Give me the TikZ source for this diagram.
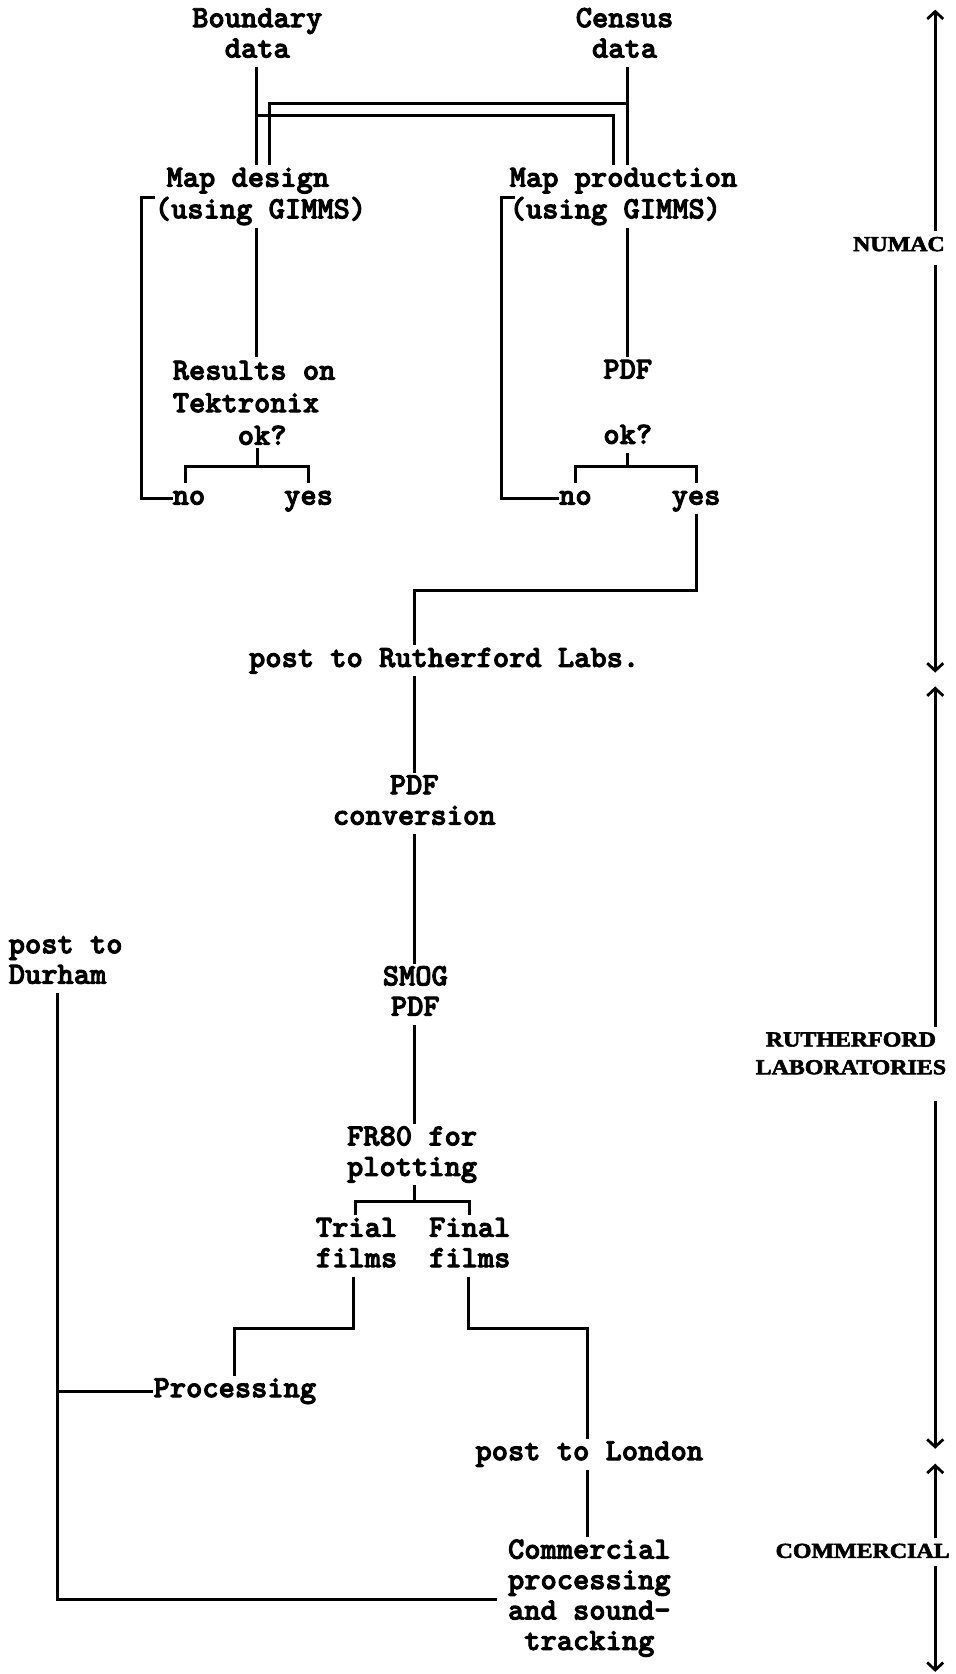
\documentclass[tikz,border=0pt]{standalone}
\usepackage{graphicx}
\usepackage{fontspec}
\usetikzlibrary{arrows.meta}
\newfontfamily\twfont{Latin Modern Mono Light}[BoldFeatures={FakeBold=3}]
\newfontfamily\labfont{Liberation Serif}[BoldFeatures={FakeBold=2.5}]
\newcommand\labtxt[1]{\scalebox{1.12}[1]{#1}\strut}
\begin{document}
\begin{tikzpicture}[x=1pt,y=-1pt,
  txt/.style={font=\twfont\bfseries\fontsize{29}{28.5}\selectfont, inner sep=0pt, align=center},
  txtwide/.style={font=\twfont\bfseries\fontsize{29}{30.5}\selectfont},
  lbl/.style={font=\labfont\bfseries\fontsize{20}{26}\selectfont, inner sep=0pt, align=center},
  wire/.style={line width=2.8pt},
  spanarrow/.style={line width=2.6pt, -{Straight Barb[length=7pt,width=15pt]}}]
\fill[white] (0,0) rectangle (895,1568);
\useasboundingbox (0,0) rectangle (895,1568);

% column coordinates
\coordinate (xL) at (240,0);
\coordinate (xLi) at (252,0);
\coordinate (xRo) at (575,0);
\coordinate (xR) at (588,0);
\coordinate (xC) at (388,0);
\coordinate (xD) at (54,0);
\coordinate (xS) at (876,0);
\coordinate (hA) at (0,97);
\coordinate (hB) at (0,108);

% nodes
\node[txt] (bd) at (241,34) {\strut Boundary\\\strut data};
\node[txt] (cd) at (585,34) {\strut Census\\\strut data};
\node[txt,align=left] (md) at (244,184) {\strut\hspace*{11pt}Map design\\\strut(using GIMMS)};
\node[txt,align=left] (mp) at (584,184) {\strut Map production\\\strut(using GIMMS)};
\node[txt,txtwide,align=left] (res) at (238,380) {\strut Results on\\\strut Tektronix\\\strut\hphantom{MMMM}ok?};
\node[txt] (pdfa) at (588,349) {\strut PDF};
\node[txt] (oka) at (588,410) {\strut ok?};
\node[txt] (no1) at (177,467) {\strut no};
\node[txt] (yes1) at (289,467) {\strut yes};
\node[txt] (no2) at (539,467) {\strut no};
\node[txt] (yes2) at (652,467) {\strut yes};
\node[txt] (rl) at (416,619) {\strut post to Rutherford Labs.};
\node[txt] (conv) at (388,752.5) {\strut PDF\\\strut conversion};
\node[txt] (smog) at (389,931.5) {\strut SMOG\\\strut PDF};
\node[txt] (fr) at (386,1081.5) {\strut FR80 for\\\strut plotting};
\node[txt] (trial) at (334,1167) {\strut Trial\\\strut films};
\node[txt] (final) at (440,1167) {\strut Final\\\strut films};
\node[txt] (proc) at (220,1303) {\strut Processing};
\node[txt,align=left,anchor=west] (dur) at (8,901.5) {\strut post to\\\strut Durham};
\node[txt] (lon) at (552,1362) {\strut post to London};
\node[txt] (com) at (552,1497) {\strut Commercial\\\strut processing\\\strut and sound-\\\strut tracking};

\node[lbl] (numac) at (842,230) {\labtxt{NUMAC}};
\node[lbl] (ruth) at (797,988) {\labtxt{RUTHERFORD}\\\labtxt{LABORATORIES}};
\node[lbl] (comm) at (808,1454) {\labtxt{COMMERCIAL}};

% top connectors
\draw[wire] (bd.south -| xL) -- (md.north -| xL);
\draw[wire] (md.north -| xLi) |- (hA -| xR);
\draw[wire] (hB -| xL) -| (mp.north -| xRo);
\draw[wire] (cd.south -| xR) -- (mp.north -| xR);

% feedback brackets
\coordinate (bl) at (133,185);
\coordinate (br) at (470,185);
\draw[wire] (no1.west) -| (bl) -- ++(12,0);
\draw[wire] (no2.west) -| (br) -- ++(12,0);

\draw[wire] (md.south -| xL) -- (res.north -| xL);
\draw[wire] (mp.south -| xR) -- (pdfa.north -| xR);

% ok? branches
\coordinate (j1) at (241,437);
\coordinate (j2) at (588,437);
\draw[wire,shorten <=-6pt] (res.south -| j1) -- (j1);
\draw[wire] ([xshift=-3pt]no1.north) |- (j1) -| (yes1.north);
\draw[wire] (oka.south) -- (j2);
\draw[wire] (no2.north) |- (j2) -| (yes2.north);

% to Rutherford
\coordinate (h3) at (388,553);
\draw[wire] (yes2.south) |- (h3) -- (rl.north -| h3);
\draw[wire] (rl.south -| xC) -- (conv.north -| xC);
\draw[wire] (conv.south -| xC) -- (smog.north -| xC);
\draw[wire] (smog.south -| xC) -- (fr.north -| xC);

\coordinate (j3) at (388,1125);
\draw[wire] (fr.south -| j3) -- (j3);
\draw[wire] ([xshift=-1pt]trial.north) |- (j3) -| (final.north);

\coordinate (h4) at (0,1244);
\draw[wire] ([xshift=-3pt]trial.south) |- (h4 -| proc.north) -- (proc.north);
\draw[wire] ([xshift=-1pt]final.south) |- ([xshift=-2pt]h4 -| lon.north) -- ([xshift=-2pt]lon.north);
\draw[wire] ([xshift=-2pt]lon.south) -- ([xshift=-2pt]com.north);

% Durham loop
\coordinate (h5) at (0,1498);
\draw[wire] (dur.south -| xD) |- ([xshift=-10pt]com.west |- h5);
\draw[wire] (proc.west -| xD) -- (proc.west);

% right-hand spans
\coordinate (s0) at (876,9);
\coordinate (s1) at (876,630);
\coordinate (s2) at (876,643);
\coordinate (s3) at (876,1357);
\coordinate (s4) at (876,1371);
\coordinate (s5) at (876,1566);
\draw[spanarrow] (numac.north -| xS) -- (s0);
\draw[spanarrow,shorten <=5pt] (numac.south -| xS) -- (s1);
\draw[spanarrow] (ruth.north -| xS) -- (s2);
\draw[spanarrow,shorten <=17pt] (ruth.south -| xS) -- (s3);
\draw[spanarrow] (comm.north -| xS) -- (s4);
\draw[spanarrow] (comm.south -| xS) -- (s5);
\end{tikzpicture}
\end{document}
